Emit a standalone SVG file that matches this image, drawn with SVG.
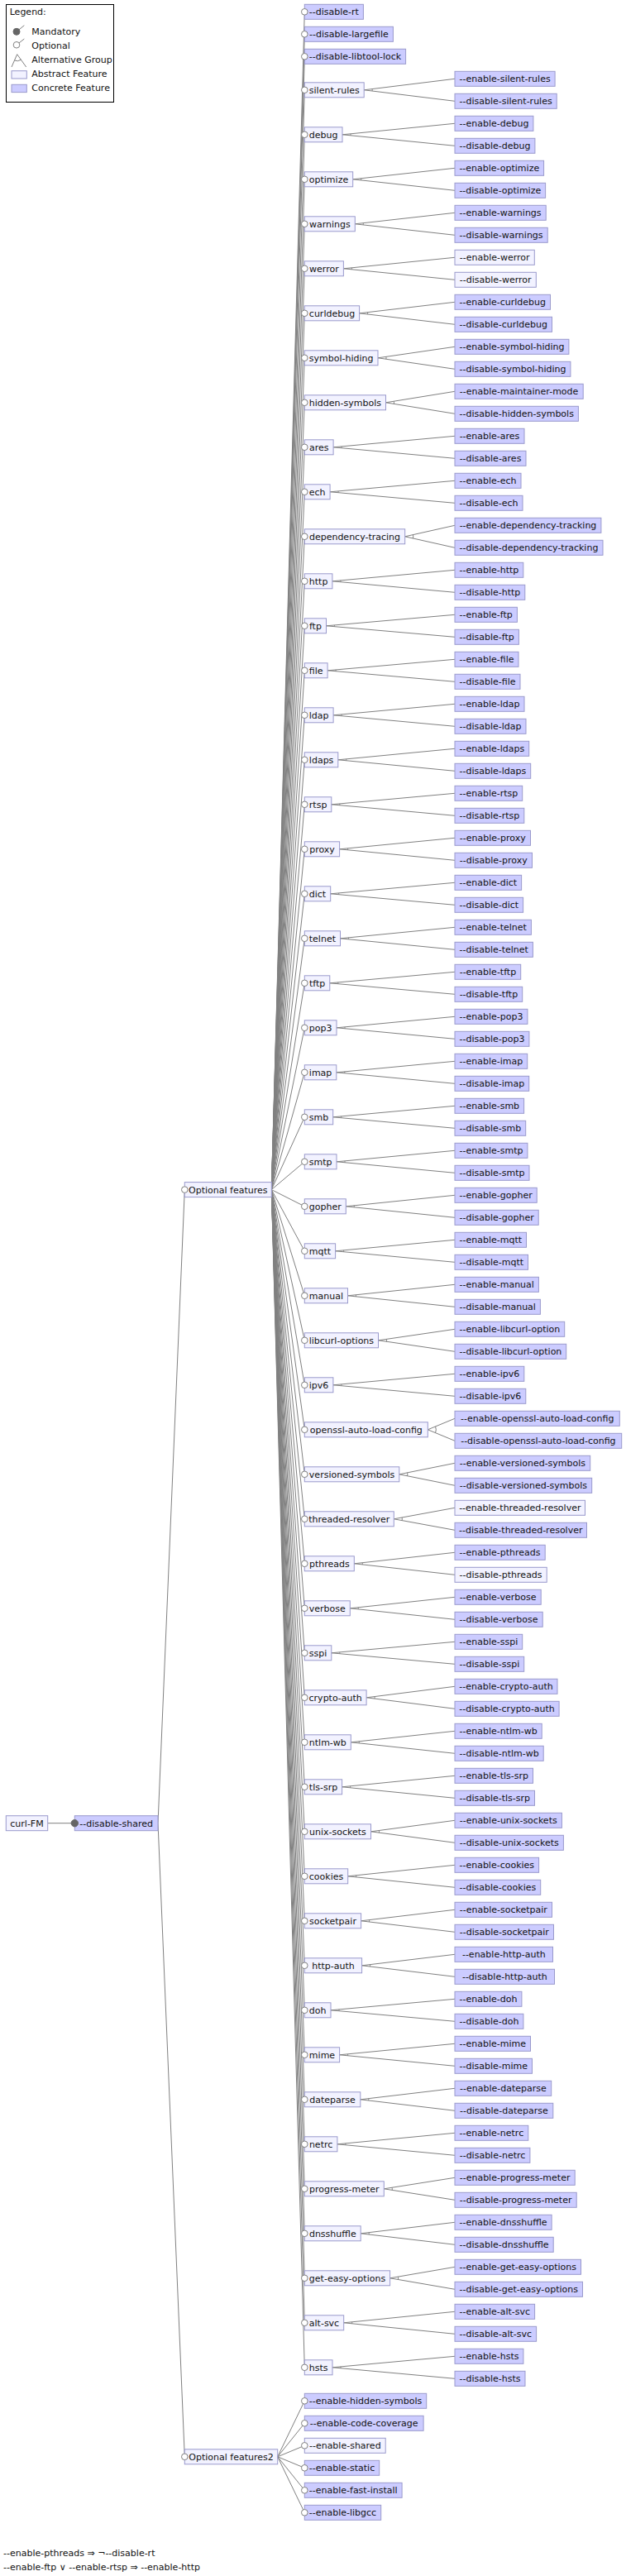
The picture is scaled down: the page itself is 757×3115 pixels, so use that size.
<svg xmlns="http://www.w3.org/2000/svg" width="757" height="3115" viewBox="0 0 757 3115">
<style>
text{font-family:"DejaVu Sans","Noto Sans",sans-serif;font-size:11px;fill:#111}
.m{text-anchor:middle}
.c{fill:#ccccff;stroke:#9999cc;stroke-width:1}
.a{fill:#f2f2ff;stroke:#9999cc;stroke-width:1}
.o{fill:#fff;stroke:#808080;stroke-width:1}
.k{fill:#666;stroke:#666;stroke-width:1}
#connectors path,.ln{fill:none;stroke:#808080;stroke-width:1}
</style>
<rect width="757" height="3115" fill="#fff"/>
<g id="legend">
<rect x="7.5" y="5.5" width="130" height="118" fill="#fff" stroke="#000"/>
<text x="11.7" y="18.3">Legend:</text>
<path class="ln" d="M20 38.3L29.3 30.7M20 54.3L29.3 47M14 81L20.7 65.7L31.7 81M17.5 73A8 8 0 0 0 25.4 72.2"/>
<circle class="k" cx="20" cy="38.3" r="4"/>
<circle class="o" cx="20" cy="54.3" r="3.8"/>
<text x="38.3" y="42.3">Mandatory</text>
<text x="38.3" y="58.5">Optional</text>
<text x="38.3" y="76">Alternative Group</text>
<rect class="a" x="14" y="85.7" width="18.3" height="9.3"/>
<text x="38.3" y="93">Abstract Feature</text>
<rect class="c" x="14" y="102.3" width="18.3" height="9.3"/>
<text x="38.3" y="110">Concrete Feature</text>
</g>
<g id="connectors">
<path d="M57.7 2204.7H90.3"/>
<path d="M191 2204.7L223.3 1438.6M191 2204.7L223.3 2970.8"/>
<path d="M328.3 1438.6L368.3 14.3M328.3 1438.6L368.3 41.3M328.3 1438.6L368.3 68.3M328.3 1438.6L368.3 108.8M328.3 1438.6L368.3 162.8M328.3 1438.6L368.3 216.8M328.3 1438.6L368.3 270.8M328.3 1438.6L368.3 324.8M328.3 1438.6L368.3 378.8M328.3 1438.6L368.3 432.8M328.3 1438.6L368.3 486.8M328.3 1438.6L368.3 540.8M328.3 1438.6L368.3 594.8M328.3 1438.6L368.3 648.8M328.3 1438.6L368.3 702.8M328.3 1438.6L368.3 756.8M328.3 1438.6L368.3 810.8M328.3 1438.6L368.3 864.8M328.3 1438.6L368.3 918.8M328.3 1438.6L368.3 972.8M328.3 1438.6L368.3 1026.8M328.3 1438.6L368.3 1080.8M328.3 1438.6L368.3 1134.8M328.3 1438.6L368.3 1188.8M328.3 1438.6L368.3 1242.8M328.3 1438.6L368.3 1296.8M328.3 1438.6L368.3 1350.8M328.3 1438.6L368.3 1404.8M328.3 1438.6L368.3 1458.8M328.3 1438.6L368.3 1512.8M328.3 1438.6L368.3 1566.8M328.3 1438.6L368.3 1620.8M328.3 1438.6L368.3 1674.8M328.3 1438.6L368.3 1728.8M328.3 1438.6L368.3 1782.8M328.3 1438.6L368.3 1836.8M328.3 1438.6L368.3 1890.8M328.3 1438.6L368.3 1944.8M328.3 1438.6L368.3 1998.8M328.3 1438.6L368.3 2052.8M328.3 1438.6L368.3 2106.8M328.3 1438.6L368.3 2160.8M328.3 1438.6L368.3 2214.8M328.3 1438.6L368.3 2268.8M328.3 1438.6L368.3 2322.8M328.3 1438.6L368.3 2376.8M328.3 1438.6L368.3 2430.8M328.3 1438.6L368.3 2484.8M328.3 1438.6L368.3 2538.8M328.3 1438.6L368.3 2592.8M328.3 1438.6L368.3 2646.8M328.3 1438.6L368.3 2700.8M328.3 1438.6L368.3 2754.8M328.3 1438.6L368.3 2808.8M328.3 1438.6L368.3 2862.8"/>
<path d="M335.7 2970.8L368.3 2903.3M335.7 2970.8L368.3 2930.3M335.7 2970.8L368.3 2957.3M335.7 2970.8L368.3 2984.3M335.7 2970.8L368.3 3011.3M335.7 2970.8L368.3 3038.3"/>
<path transform="translate(0,108.8)" d="M440.2 0L550-13.5M440.2 0L550 13.5M450.1-1.22A10 10 0 0 1 450.1 1.22"/>
<path transform="translate(0,162.8)" d="M414 0L550-13.5M414 0L550 13.5M423.95-.99A10 10 0 0 1 423.95 .99"/>
<path transform="translate(0,216.8)" d="M426.7 0L550-13.5M426.7 0L550 13.5M436.64-1.09A10 10 0 0 1 436.64 1.09"/>
<path transform="translate(0,270.8)" d="M429.3 0L550-13.5M429.3 0L550 13.5M439.24-1.11A10 10 0 0 1 439.24 1.11"/>
<path transform="translate(0,324.8)" d="M415.4 0L550-13.5M415.4 0L550 13.5M425.35-1A10 10 0 0 1 425.35 1"/>
<path transform="translate(0,378.8)" d="M434.6 0L550-13.5M434.6 0L550 13.5M444.53-1.16A10 10 0 0 1 444.53 1.16"/>
<path transform="translate(0,432.8)" d="M457 0L550-13.5M457 0L550 13.5M466.9-1.44A10 10 0 0 1 466.9 1.44"/>
<path transform="translate(0,486.8)" d="M466.5 0L550-13.5M466.5 0L550 13.5M476.37-1.6A10 10 0 0 1 476.37 1.6"/>
<path transform="translate(0,540.8)" d="M403.1 0L550-13.5M403.1 0L550 13.5M413.06-.92A10 10 0 0 1 413.06 .92"/>
<path transform="translate(0,594.8)" d="M399.1 0L550-13.5M399.1 0L550 13.5M409.06-.89A10 10 0 0 1 409.06 .89"/>
<path transform="translate(0,648.8)" d="M489.7 0L550-13.5M489.7 0L550 13.5M499.46-2.19A10 10 0 0 1 499.46 2.19"/>
<path transform="translate(0,702.8)" d="M401.9 0L550-13.5M401.9 0L550 13.5M411.86-.91A10 10 0 0 1 411.86 .91"/>
<path transform="translate(0,756.8)" d="M394.5 0L550-13.5M394.5 0L550 13.5M404.46-.87A10 10 0 0 1 404.46 .87"/>
<path transform="translate(0,810.8)" d="M396.1 0L550-13.5M396.1 0L550 13.5M406.06-.87A10 10 0 0 1 406.06 .87"/>
<path transform="translate(0,864.8)" d="M403.1 0L550-13.5M403.1 0L550 13.5M413.06-.92A10 10 0 0 1 413.06 .92"/>
<path transform="translate(0,918.8)" d="M408.8 0L550-13.5M408.8 0L550 13.5M418.75-.95A10 10 0 0 1 418.75 .95"/>
<path transform="translate(0,972.8)" d="M400.8 0L550-13.5M400.8 0L550 13.5M410.76-.9A10 10 0 0 1 410.76 .9"/>
<path transform="translate(0,1026.8)" d="M410.6 0L550-13.5M410.6 0L550 13.5M420.55-.96A10 10 0 0 1 420.55 .96"/>
<path transform="translate(0,1080.8)" d="M399.7 0L550-13.5M399.7 0L550 13.5M409.66-.9A10 10 0 0 1 409.66 .9"/>
<path transform="translate(0,1134.8)" d="M411.5 0L550-13.5M411.5 0L550 13.5M421.45-.97A10 10 0 0 1 421.45 .97"/>
<path transform="translate(0,1188.8)" d="M398.8 0L550-13.5M398.8 0L550 13.5M408.76-.89A10 10 0 0 1 408.76 .89"/>
<path transform="translate(0,1242.8)" d="M407 0L550-13.5M407 0L550 13.5M416.96-.94A10 10 0 0 1 416.96 .94"/>
<path transform="translate(0,1296.8)" d="M406.8 0L550-13.5M406.8 0L550 13.5M416.76-.94A10 10 0 0 1 416.76 .94"/>
<path transform="translate(0,1350.8)" d="M402.7 0L550-13.5M402.7 0L550 13.5M412.66-.91A10 10 0 0 1 412.66 .91"/>
<path transform="translate(0,1404.8)" d="M407 0L550-13.5M407 0L550 13.5M416.96-.94A10 10 0 0 1 416.96 .94"/>
<path transform="translate(0,1458.8)" d="M418.3 0L550-13.5M418.3 0L550 13.5M428.25-1.02A10 10 0 0 1 428.25 1.02"/>
<path transform="translate(0,1512.8)" d="M405.6 0L550-13.5M405.6 0L550 13.5M415.56-.93A10 10 0 0 1 415.56 .93"/>
<path transform="translate(0,1566.8)" d="M420.5 0L550-13.5M420.5 0L550 13.5M430.45-1.04A10 10 0 0 1 430.45 1.04"/>
<path transform="translate(0,1620.8)" d="M457.5 0L550-13.5M457.5 0L550 13.5M467.4-1.44A10 10 0 0 1 467.4 1.44"/>
<path transform="translate(0,1674.8)" d="M402.9 0L550-13.5M402.9 0L550 13.5M412.86-.91A10 10 0 0 1 412.86 .91"/>
<path transform="translate(0,1728.8)" d="M517.3 0L550-13.5M517.3 0L550 13.5M526.54-3.82A10 10 0 0 1 526.54 3.82"/>
<path transform="translate(0,1782.8)" d="M482.8 0L550-13.5M482.8 0L550 13.5M492.6-1.97A10 10 0 0 1 492.6 1.97"/>
<path transform="translate(0,1836.8)" d="M476.3 0L550-13.5M476.3 0L550 13.5M486.14-1.8A10 10 0 0 1 486.14 1.8"/>
<path transform="translate(0,1890.8)" d="M428.3 0L550-13.5M428.3 0L550 13.5M438.24-1.1A10 10 0 0 1 438.24 1.1"/>
<path transform="translate(0,1944.8)" d="M423.3 0L550-13.5M423.3 0L550 13.5M433.24-1.06A10 10 0 0 1 433.24 1.06"/>
<path transform="translate(0,1998.8)" d="M400.8 0L550-13.5M400.8 0L550 13.5M410.76-.9A10 10 0 0 1 410.76 .9"/>
<path transform="translate(0,2052.8)" d="M443.1 0L550-13.5M443.1 0L550 13.5M453.02-1.25A10 10 0 0 1 453.02 1.25"/>
<path transform="translate(0,2106.8)" d="M424.3 0L550-13.5M424.3 0L550 13.5M434.24-1.07A10 10 0 0 1 434.24 1.07"/>
<path transform="translate(0,2160.8)" d="M413.6 0L550-13.5M413.6 0L550 13.5M423.55-.99A10 10 0 0 1 423.55 .99"/>
<path transform="translate(0,2214.8)" d="M448.5 0L550-13.5M448.5 0L550 13.5M458.41-1.32A10 10 0 0 1 458.41 1.32"/>
<path transform="translate(0,2268.8)" d="M420.7 0L550-13.5M420.7 0L550 13.5M430.65-1.04A10 10 0 0 1 430.65 1.04"/>
<path transform="translate(0,2322.8)" d="M436.6 0L550-13.5M436.6 0L550 13.5M446.53-1.18A10 10 0 0 1 446.53 1.18"/>
<path transform="translate(0,2376.8)" d="M437.6 0L550-13.5M437.6 0L550 13.5M447.53-1.19A10 10 0 0 1 447.53 1.19"/>
<path transform="translate(0,2430.8)" d="M400 0L550-13.5M400 0L550 13.5M409.96-.9A10 10 0 0 1 409.96 .9"/>
<path transform="translate(0,2484.8)" d="M410.6 0L550-13.5M410.6 0L550 13.5M420.55-.96A10 10 0 0 1 420.55 .96"/>
<path transform="translate(0,2538.8)" d="M435.8 0L550-13.5M435.8 0L550 13.5M445.73-1.17A10 10 0 0 1 445.73 1.17"/>
<path transform="translate(0,2592.8)" d="M407.9 0L550-13.5M407.9 0L550 13.5M417.85-.95A10 10 0 0 1 417.85 .95"/>
<path transform="translate(0,2646.8)" d="M464.3 0L550-13.5M464.3 0L550 13.5M474.18-1.56A10 10 0 0 1 474.18 1.56"/>
<path transform="translate(0,2700.8)" d="M436.2 0L550-13.5M436.2 0L550 13.5M446.13-1.18A10 10 0 0 1 446.13 1.18"/>
<path transform="translate(0,2754.8)" d="M471.6 0L550-13.5M471.6 0L550 13.5M481.46-1.7A10 10 0 0 1 481.46 1.7"/>
<path transform="translate(0,2808.8)" d="M415.7 0L550-13.5M415.7 0L550 13.5M425.65-1A10 10 0 0 1 425.65 1"/>
<path transform="translate(0,2862.8)" d="M402 0L550-13.5M402 0L550 13.5M411.96-.91A10 10 0 0 1 411.96 .91"/>
</g>
<g id="n-curl-FM" transform="translate(7.3,2204.7)"><rect class="a" y="-9" width="50.4" height="18"/><text class="m" x="25.2" y="4">curl-FM</text></g>
<g id="n-disable-shared" transform="translate(90.3,2204.7)"><rect class="c" y="-9" width="100.7" height="18"/><circle class="k" r="4.2"/><text class="m" x="50.4" y="4">--disable-shared</text></g>
<g id="n-optional-features" transform="translate(223.3,1438.6)"><rect class="a" y="-9" width="105" height="18"/><circle class="o" r="3.8"/><text class="m" x="52.5" y="4">Optional features</text></g>
<g id="n-optional-features2" transform="translate(223.3,2970.8)"><rect class="a" y="-9" width="112.4" height="18"/><circle class="o" r="3.8"/><text class="m" x="56.2" y="4">Optional features2</text></g>
<g id="n-disable-rt" transform="translate(368.3,14.3)"><rect class="c" y="-9" width="71.1" height="18"/><circle class="o" r="3.8"/><text class="m" x="35.6" y="4">--disable-rt</text></g>
<g id="n-disable-largefile" transform="translate(368.3,41.3)"><rect class="c" y="-9" width="107.1" height="18"/><circle class="o" r="3.8"/><text class="m" x="53.6" y="4">--disable-largefile</text></g>
<g id="n-disable-libtool-lock" transform="translate(368.3,68.3)"><rect class="c" y="-9" width="122.3" height="18"/><circle class="o" r="3.8"/><text class="m" x="61.2" y="4">--disable-libtool-lock</text></g>
<g id="n-silent-rules" transform="translate(368.3,108.8)"><rect class="a" y="-9" width="71.9" height="18"/><circle class="o" r="3.8"/><text class="m" x="36" y="4">silent-rules</text></g>
<g id="n-enable-silent-rules" transform="translate(550,95.3)"><rect class="c" y="-9" width="121.1" height="18"/><text class="m" x="60.6" y="4">--enable-silent-rules</text></g>
<g id="n-disable-silent-rules" transform="translate(550,122.3)"><rect class="c" y="-9" width="123.2" height="18"/><text class="m" x="61.6" y="4">--disable-silent-rules</text></g>
<g id="n-debug" transform="translate(368.3,162.8)"><rect class="a" y="-9" width="45.7" height="18"/><circle class="o" r="3.8"/><text class="m" x="22.9" y="4">debug</text></g>
<g id="n-enable-debug" transform="translate(550,149.3)"><rect class="c" y="-9" width="94.9" height="18"/><text class="m" x="47.5" y="4">--enable-debug</text></g>
<g id="n-disable-debug" transform="translate(550,176.3)"><rect class="c" y="-9" width="96.9" height="18"/><text class="m" x="48.5" y="4">--disable-debug</text></g>
<g id="n-optimize" transform="translate(368.3,216.8)"><rect class="a" y="-9" width="58.4" height="18"/><circle class="o" r="3.8"/><text class="m" x="29.2" y="4">optimize</text></g>
<g id="n-enable-optimize" transform="translate(550,203.3)"><rect class="c" y="-9" width="107.6" height="18"/><text class="m" x="53.8" y="4">--enable-optimize</text></g>
<g id="n-disable-optimize" transform="translate(550,230.3)"><rect class="c" y="-9" width="109.6" height="18"/><text class="m" x="54.8" y="4">--disable-optimize</text></g>
<g id="n-warnings" transform="translate(368.3,270.8)"><rect class="a" y="-9" width="61" height="18"/><circle class="o" r="3.8"/><text class="m" x="30.5" y="4">warnings</text></g>
<g id="n-enable-warnings" transform="translate(550,257.3)"><rect class="c" y="-9" width="110.2" height="18"/><text class="m" x="55.1" y="4">--enable-warnings</text></g>
<g id="n-disable-warnings" transform="translate(550,284.3)"><rect class="c" y="-9" width="112.2" height="18"/><text class="m" x="56.1" y="4">--disable-warnings</text></g>
<g id="n-werror" transform="translate(368.3,324.8)"><rect class="a" y="-9" width="47.1" height="18"/><circle class="o" r="3.8"/><text class="m" x="23.6" y="4">werror</text></g>
<g id="n-enable-werror" transform="translate(550,311.3)"><rect class="a" y="-9" width="96.3" height="18"/><text class="m" x="48.2" y="4">--enable-werror</text></g>
<g id="n-disable-werror" transform="translate(550,338.3)"><rect class="a" y="-9" width="98.3" height="18"/><text class="m" x="49.2" y="4">--disable-werror</text></g>
<g id="n-curldebug" transform="translate(368.3,378.8)"><rect class="a" y="-9" width="66.3" height="18"/><circle class="o" r="3.8"/><text class="m" x="33.2" y="4">curldebug</text></g>
<g id="n-enable-curldebug" transform="translate(550,365.3)"><rect class="c" y="-9" width="115.5" height="18"/><text class="m" x="57.8" y="4">--enable-curldebug</text></g>
<g id="n-disable-curldebug" transform="translate(550,392.3)"><rect class="c" y="-9" width="117.5" height="18"/><text class="m" x="58.8" y="4">--disable-curldebug</text></g>
<g id="n-symbol-hiding" transform="translate(368.3,432.8)"><rect class="a" y="-9" width="88.7" height="18"/><circle class="o" r="3.8"/><text class="m" x="44.4" y="4">symbol-hiding</text></g>
<g id="n-enable-symbol-hiding" transform="translate(550,419.3)"><rect class="c" y="-9" width="137.9" height="18"/><text class="m" x="69" y="4">--enable-symbol-hiding</text></g>
<g id="n-disable-symbol-hiding" transform="translate(550,446.3)"><rect class="c" y="-9" width="139.9" height="18"/><text class="m" x="70" y="4">--disable-symbol-hiding</text></g>
<g id="n-hidden-symbols" transform="translate(368.3,486.8)"><rect class="a" y="-9" width="98.2" height="18"/><circle class="o" r="3.8"/><text class="m" x="49.1" y="4">hidden-symbols</text></g>
<g id="n-enable-maintainer-mode" transform="translate(550,473.3)"><rect class="c" y="-9" width="155.2" height="18"/><text class="m" x="77.6" y="4">--enable-maintainer-mode</text></g>
<g id="n-disable-hidden-symbols" transform="translate(550,500.3)"><rect class="c" y="-9" width="149.4" height="18"/><text class="m" x="74.7" y="4">--disable-hidden-symbols</text></g>
<g id="n-ares" transform="translate(368.3,540.8)"><rect class="a" y="-9" width="34.8" height="18"/><circle class="o" r="3.8"/><text class="m" x="17.4" y="4">ares</text></g>
<g id="n-enable-ares" transform="translate(550,527.3)"><rect class="c" y="-9" width="84" height="18"/><text class="m" x="42" y="4">--enable-ares</text></g>
<g id="n-disable-ares" transform="translate(550,554.3)"><rect class="c" y="-9" width="86" height="18"/><text class="m" x="43" y="4">--disable-ares</text></g>
<g id="n-ech" transform="translate(368.3,594.8)"><rect class="a" y="-9" width="30.8" height="18"/><circle class="o" r="3.8"/><text class="m" x="15.4" y="4">ech</text></g>
<g id="n-enable-ech" transform="translate(550,581.3)"><rect class="c" y="-9" width="80" height="18"/><text class="m" x="40" y="4">--enable-ech</text></g>
<g id="n-disable-ech" transform="translate(550,608.3)"><rect class="c" y="-9" width="82" height="18"/><text class="m" x="41" y="4">--disable-ech</text></g>
<g id="n-dependency-tracing" transform="translate(368.3,648.8)"><rect class="a" y="-9" width="121.4" height="18"/><circle class="o" r="3.8"/><text class="m" x="60.7" y="4">dependency-tracing</text></g>
<g id="n-enable-dependency-tracking" transform="translate(550,635.3)"><rect class="c" y="-9" width="176.9" height="18"/><text class="m" x="88.5" y="4">--enable-dependency-tracking</text></g>
<g id="n-disable-dependency-tracking" transform="translate(550,662.3)"><rect class="c" y="-9" width="179" height="18"/><text class="m" x="89.5" y="4">--disable-dependency-tracking</text></g>
<g id="n-http" transform="translate(368.3,702.8)"><rect class="a" y="-9" width="33.6" height="18"/><circle class="o" r="3.8"/><text class="m" x="16.8" y="4">http</text></g>
<g id="n-enable-http" transform="translate(550,689.3)"><rect class="c" y="-9" width="82.8" height="18"/><text class="m" x="41.4" y="4">--enable-http</text></g>
<g id="n-disable-http" transform="translate(550,716.3)"><rect class="c" y="-9" width="84.8" height="18"/><text class="m" x="42.4" y="4">--disable-http</text></g>
<g id="n-ftp" transform="translate(368.3,756.8)"><rect class="a" y="-9" width="26.2" height="18"/><circle class="o" r="3.8"/><text class="m" x="13.1" y="4">ftp</text></g>
<g id="n-enable-ftp" transform="translate(550,743.3)"><rect class="c" y="-9" width="75.4" height="18"/><text class="m" x="37.7" y="4">--enable-ftp</text></g>
<g id="n-disable-ftp" transform="translate(550,770.3)"><rect class="c" y="-9" width="77.4" height="18"/><text class="m" x="38.7" y="4">--disable-ftp</text></g>
<g id="n-file" transform="translate(368.3,810.8)"><rect class="a" y="-9" width="27.8" height="18"/><circle class="o" r="3.8"/><text class="m" x="13.9" y="4">file</text></g>
<g id="n-enable-file" transform="translate(550,797.3)"><rect class="c" y="-9" width="77" height="18"/><text class="m" x="38.5" y="4">--enable-file</text></g>
<g id="n-disable-file" transform="translate(550,824.3)"><rect class="c" y="-9" width="79" height="18"/><text class="m" x="39.5" y="4">--disable-file</text></g>
<g id="n-ldap" transform="translate(368.3,864.8)"><rect class="a" y="-9" width="34.8" height="18"/><circle class="o" r="3.8"/><text class="m" x="17.4" y="4">ldap</text></g>
<g id="n-enable-ldap" transform="translate(550,851.3)"><rect class="c" y="-9" width="84" height="18"/><text class="m" x="42" y="4">--enable-ldap</text></g>
<g id="n-disable-ldap" transform="translate(550,878.3)"><rect class="c" y="-9" width="86" height="18"/><text class="m" x="43" y="4">--disable-ldap</text></g>
<g id="n-ldaps" transform="translate(368.3,918.8)"><rect class="a" y="-9" width="40.5" height="18"/><circle class="o" r="3.8"/><text class="m" x="20.3" y="4">ldaps</text></g>
<g id="n-enable-ldaps" transform="translate(550,905.3)"><rect class="c" y="-9" width="89.7" height="18"/><text class="m" x="44.9" y="4">--enable-ldaps</text></g>
<g id="n-disable-ldaps" transform="translate(550,932.3)"><rect class="c" y="-9" width="91.7" height="18"/><text class="m" x="45.9" y="4">--disable-ldaps</text></g>
<g id="n-rtsp" transform="translate(368.3,972.8)"><rect class="a" y="-9" width="32.5" height="18"/><circle class="o" r="3.8"/><text class="m" x="16.3" y="4">rtsp</text></g>
<g id="n-enable-rtsp" transform="translate(550,959.3)"><rect class="c" y="-9" width="81.7" height="18"/><text class="m" x="40.9" y="4">--enable-rtsp</text></g>
<g id="n-disable-rtsp" transform="translate(550,986.3)"><rect class="c" y="-9" width="83.8" height="18"/><text class="m" x="41.9" y="4">--disable-rtsp</text></g>
<g id="n-proxy" transform="translate(368.3,1026.8)"><rect class="a" y="-9" width="42.3" height="18"/><circle class="o" r="3.8"/><text class="m" x="21.2" y="4">proxy</text></g>
<g id="n-enable-proxy" transform="translate(550,1013.3)"><rect class="c" y="-9" width="91.5" height="18"/><text class="m" x="45.8" y="4">--enable-proxy</text></g>
<g id="n-disable-proxy" transform="translate(550,1040.3)"><rect class="c" y="-9" width="93.5" height="18"/><text class="m" x="46.8" y="4">--disable-proxy</text></g>
<g id="n-dict" transform="translate(368.3,1080.8)"><rect class="a" y="-9" width="31.4" height="18"/><circle class="o" r="3.8"/><text class="m" x="15.7" y="4">dict</text></g>
<g id="n-enable-dict" transform="translate(550,1067.3)"><rect class="c" y="-9" width="80.6" height="18"/><text class="m" x="40.3" y="4">--enable-dict</text></g>
<g id="n-disable-dict" transform="translate(550,1094.3)"><rect class="c" y="-9" width="82.6" height="18"/><text class="m" x="41.3" y="4">--disable-dict</text></g>
<g id="n-telnet" transform="translate(368.3,1134.8)"><rect class="a" y="-9" width="43.2" height="18"/><circle class="o" r="3.8"/><text class="m" x="21.6" y="4">telnet</text></g>
<g id="n-enable-telnet" transform="translate(550,1121.3)"><rect class="c" y="-9" width="92.4" height="18"/><text class="m" x="46.2" y="4">--enable-telnet</text></g>
<g id="n-disable-telnet" transform="translate(550,1148.3)"><rect class="c" y="-9" width="94.4" height="18"/><text class="m" x="47.2" y="4">--disable-telnet</text></g>
<g id="n-tftp" transform="translate(368.3,1188.8)"><rect class="a" y="-9" width="30.5" height="18"/><circle class="o" r="3.8"/><text class="m" x="15.3" y="4">tftp</text></g>
<g id="n-enable-tftp" transform="translate(550,1175.3)"><rect class="c" y="-9" width="79.7" height="18"/><text class="m" x="39.9" y="4">--enable-tftp</text></g>
<g id="n-disable-tftp" transform="translate(550,1202.3)"><rect class="c" y="-9" width="81.7" height="18"/><text class="m" x="40.9" y="4">--disable-tftp</text></g>
<g id="n-pop3" transform="translate(368.3,1242.8)"><rect class="a" y="-9" width="38.7" height="18"/><circle class="o" r="3.8"/><text class="m" x="19.4" y="4">pop3</text></g>
<g id="n-enable-pop3" transform="translate(550,1229.3)"><rect class="c" y="-9" width="87.9" height="18"/><text class="m" x="44" y="4">--enable-pop3</text></g>
<g id="n-disable-pop3" transform="translate(550,1256.3)"><rect class="c" y="-9" width="89.9" height="18"/><text class="m" x="45" y="4">--disable-pop3</text></g>
<g id="n-imap" transform="translate(368.3,1296.8)"><rect class="a" y="-9" width="38.5" height="18"/><circle class="o" r="3.8"/><text class="m" x="19.3" y="4">imap</text></g>
<g id="n-enable-imap" transform="translate(550,1283.3)"><rect class="c" y="-9" width="87.7" height="18"/><text class="m" x="43.9" y="4">--enable-imap</text></g>
<g id="n-disable-imap" transform="translate(550,1310.3)"><rect class="c" y="-9" width="89.7" height="18"/><text class="m" x="44.9" y="4">--disable-imap</text></g>
<g id="n-smb" transform="translate(368.3,1350.8)"><rect class="a" y="-9" width="34.4" height="18"/><circle class="o" r="3.8"/><text class="m" x="17.2" y="4">smb</text></g>
<g id="n-enable-smb" transform="translate(550,1337.3)"><rect class="c" y="-9" width="83.6" height="18"/><text class="m" x="41.8" y="4">--enable-smb</text></g>
<g id="n-disable-smb" transform="translate(550,1364.3)"><rect class="c" y="-9" width="85.7" height="18"/><text class="m" x="42.9" y="4">--disable-smb</text></g>
<g id="n-smtp" transform="translate(368.3,1404.8)"><rect class="a" y="-9" width="38.7" height="18"/><circle class="o" r="3.8"/><text class="m" x="19.4" y="4">smtp</text></g>
<g id="n-enable-smtp" transform="translate(550,1391.3)"><rect class="c" y="-9" width="87.9" height="18"/><text class="m" x="44" y="4">--enable-smtp</text></g>
<g id="n-disable-smtp" transform="translate(550,1418.3)"><rect class="c" y="-9" width="90" height="18"/><text class="m" x="45" y="4">--disable-smtp</text></g>
<g id="n-gopher" transform="translate(368.3,1458.8)"><rect class="a" y="-9" width="50" height="18"/><circle class="o" r="3.8"/><text class="m" x="25" y="4">gopher</text></g>
<g id="n-enable-gopher" transform="translate(550,1445.3)"><rect class="c" y="-9" width="99.2" height="18"/><text class="m" x="49.6" y="4">--enable-gopher</text></g>
<g id="n-disable-gopher" transform="translate(550,1472.3)"><rect class="c" y="-9" width="101.2" height="18"/><text class="m" x="50.6" y="4">--disable-gopher</text></g>
<g id="n-mqtt" transform="translate(368.3,1512.8)"><rect class="a" y="-9" width="37.3" height="18"/><circle class="o" r="3.8"/><text class="m" x="18.7" y="4">mqtt</text></g>
<g id="n-enable-mqtt" transform="translate(550,1499.3)"><rect class="c" y="-9" width="86.5" height="18"/><text class="m" x="43.3" y="4">--enable-mqtt</text></g>
<g id="n-disable-mqtt" transform="translate(550,1526.3)"><rect class="c" y="-9" width="88.5" height="18"/><text class="m" x="44.3" y="4">--disable-mqtt</text></g>
<g id="n-manual" transform="translate(368.3,1566.8)"><rect class="a" y="-9" width="52.2" height="18"/><circle class="o" r="3.8"/><text class="m" x="26.1" y="4">manual</text></g>
<g id="n-enable-manual" transform="translate(550,1553.3)"><rect class="c" y="-9" width="101.4" height="18"/><text class="m" x="50.7" y="4">--enable-manual</text></g>
<g id="n-disable-manual" transform="translate(550,1580.3)"><rect class="c" y="-9" width="103.4" height="18"/><text class="m" x="51.7" y="4">--disable-manual</text></g>
<g id="n-libcurl-options" transform="translate(368.3,1620.8)"><rect class="a" y="-9" width="89.2" height="18"/><circle class="o" r="3.8"/><text class="m" x="44.6" y="4">libcurl-options</text></g>
<g id="n-enable-libcurl-option" transform="translate(550,1607.3)"><rect class="c" y="-9" width="132.7" height="18"/><text class="m" x="66.4" y="4">--enable-libcurl-option</text></g>
<g id="n-disable-libcurl-option" transform="translate(550,1634.3)"><rect class="c" y="-9" width="134.7" height="18"/><text class="m" x="67.4" y="4">--disable-libcurl-option</text></g>
<g id="n-ipv6" transform="translate(368.3,1674.8)"><rect class="a" y="-9" width="34.6" height="18"/><circle class="o" r="3.8"/><text class="m" x="17.3" y="4">ipv6</text></g>
<g id="n-enable-ipv6" transform="translate(550,1661.3)"><rect class="c" y="-9" width="83.8" height="18"/><text class="m" x="41.9" y="4">--enable-ipv6</text></g>
<g id="n-disable-ipv6" transform="translate(550,1688.3)"><rect class="c" y="-9" width="85.8" height="18"/><text class="m" x="42.9" y="4">--disable-ipv6</text></g>
<g id="n-openssl-auto-load-config" transform="translate(368.3,1728.8)"><rect class="a" y="-9" width="149" height="18"/><circle class="o" r="3.8"/><text class="m" x="74.5" y="4">openssl-auto-load-config</text></g>
<g id="n-enable-openssl-auto-load-config" transform="translate(550,1715.3)"><rect class="c" y="-9" width="199.3" height="18"/><text class="m" x="99.7" y="4">--enable-openssl-auto-load-config</text></g>
<g id="n-disable-openssl-auto-load-config" transform="translate(550,1742.3)"><rect class="c" y="-9" width="201.7" height="18"/><text class="m" x="100.9" y="4">--disable-openssl-auto-load-config</text></g>
<g id="n-versioned-symbols" transform="translate(368.3,1782.8)"><rect class="a" y="-9" width="114.5" height="18"/><circle class="o" r="3.8"/><text class="m" x="57.3" y="4">versioned-symbols</text></g>
<g id="n-enable-versioned-symbols" transform="translate(550,1769.3)"><rect class="c" y="-9" width="163.7" height="18"/><text class="m" x="81.9" y="4">--enable-versioned-symbols</text></g>
<g id="n-disable-versioned-symbols" transform="translate(550,1796.3)"><rect class="c" y="-9" width="165.7" height="18"/><text class="m" x="82.9" y="4">--disable-versioned-symbols</text></g>
<g id="n-threaded-resolver" transform="translate(368.3,1836.8)"><rect class="a" y="-9" width="108" height="18"/><circle class="o" r="3.8"/><text class="m" x="54" y="4">threaded-resolver</text></g>
<g id="n-enable-threaded-resolver" transform="translate(550,1823.3)"><rect class="a" y="-9" width="157.5" height="18"/><text class="m" x="78.8" y="4">--enable-threaded-resolver</text></g>
<g id="n-disable-threaded-resolver" transform="translate(550,1850.3)"><rect class="c" y="-9" width="159.5" height="18"/><text class="m" x="79.8" y="4">--disable-threaded-resolver</text></g>
<g id="n-pthreads" transform="translate(368.3,1890.8)"><rect class="a" y="-9" width="60" height="18"/><circle class="o" r="3.8"/><text class="m" x="30" y="4">pthreads</text></g>
<g id="n-enable-pthreads" transform="translate(550,1877.3)"><rect class="c" y="-9" width="109.2" height="18"/><text class="m" x="54.6" y="4">--enable-pthreads</text></g>
<g id="n-disable-pthreads" transform="translate(550,1904.3)"><rect class="a" y="-9" width="111.2" height="18"/><text class="m" x="55.6" y="4">--disable-pthreads</text></g>
<g id="n-verbose" transform="translate(368.3,1944.8)"><rect class="a" y="-9" width="55" height="18"/><circle class="o" r="3.8"/><text class="m" x="27.5" y="4">verbose</text></g>
<g id="n-enable-verbose" transform="translate(550,1931.3)"><rect class="c" y="-9" width="104.2" height="18"/><text class="m" x="52.1" y="4">--enable-verbose</text></g>
<g id="n-disable-verbose" transform="translate(550,1958.3)"><rect class="c" y="-9" width="106.2" height="18"/><text class="m" x="53.1" y="4">--disable-verbose</text></g>
<g id="n-sspi" transform="translate(368.3,1998.8)"><rect class="a" y="-9" width="32.5" height="18"/><circle class="o" r="3.8"/><text class="m" x="16.3" y="4">sspi</text></g>
<g id="n-enable-sspi" transform="translate(550,1985.3)"><rect class="c" y="-9" width="81.7" height="18"/><text class="m" x="40.9" y="4">--enable-sspi</text></g>
<g id="n-disable-sspi" transform="translate(550,2012.3)"><rect class="c" y="-9" width="83.7" height="18"/><text class="m" x="41.9" y="4">--disable-sspi</text></g>
<g id="n-crypto-auth" transform="translate(368.3,2052.8)"><rect class="a" y="-9" width="74.8" height="18"/><circle class="o" r="3.8"/><text class="m" x="37.4" y="4">crypto-auth</text></g>
<g id="n-enable-crypto-auth" transform="translate(550,2039.3)"><rect class="c" y="-9" width="124" height="18"/><text class="m" x="62" y="4">--enable-crypto-auth</text></g>
<g id="n-disable-crypto-auth" transform="translate(550,2066.3)"><rect class="c" y="-9" width="126.1" height="18"/><text class="m" x="63.1" y="4">--disable-crypto-auth</text></g>
<g id="n-ntlm-wb" transform="translate(368.3,2106.8)"><rect class="a" y="-9" width="56" height="18"/><circle class="o" r="3.8"/><text class="m" x="28" y="4">ntlm-wb</text></g>
<g id="n-enable-ntlm-wb" transform="translate(550,2093.3)"><rect class="c" y="-9" width="105.2" height="18"/><text class="m" x="52.6" y="4">--enable-ntlm-wb</text></g>
<g id="n-disable-ntlm-wb" transform="translate(550,2120.3)"><rect class="c" y="-9" width="107.2" height="18"/><text class="m" x="53.6" y="4">--disable-ntlm-wb</text></g>
<g id="n-tls-srp" transform="translate(368.3,2160.8)"><rect class="a" y="-9" width="45.3" height="18"/><circle class="o" r="3.8"/><text class="m" x="22.7" y="4">tls-srp</text></g>
<g id="n-enable-tls-srp" transform="translate(550,2147.3)"><rect class="c" y="-9" width="94.5" height="18"/><text class="m" x="47.3" y="4">--enable-tls-srp</text></g>
<g id="n-disable-tls-srp" transform="translate(550,2174.3)"><rect class="c" y="-9" width="96.5" height="18"/><text class="m" x="48.3" y="4">--disable-tls-srp</text></g>
<g id="n-unix-sockets" transform="translate(368.3,2214.8)"><rect class="a" y="-9" width="80.2" height="18"/><circle class="o" r="3.8"/><text class="m" x="40.1" y="4">unix-sockets</text></g>
<g id="n-enable-unix-sockets" transform="translate(550,2201.3)"><rect class="c" y="-9" width="129.4" height="18"/><text class="m" x="64.7" y="4">--enable-unix-sockets</text></g>
<g id="n-disable-unix-sockets" transform="translate(550,2228.3)"><rect class="c" y="-9" width="131.4" height="18"/><text class="m" x="65.7" y="4">--disable-unix-sockets</text></g>
<g id="n-cookies" transform="translate(368.3,2268.8)"><rect class="a" y="-9" width="52.4" height="18"/><circle class="o" r="3.8"/><text class="m" x="26.2" y="4">cookies</text></g>
<g id="n-enable-cookies" transform="translate(550,2255.3)"><rect class="c" y="-9" width="101.6" height="18"/><text class="m" x="50.8" y="4">--enable-cookies</text></g>
<g id="n-disable-cookies" transform="translate(550,2282.3)"><rect class="c" y="-9" width="103.7" height="18"/><text class="m" x="51.9" y="4">--disable-cookies</text></g>
<g id="n-socketpair" transform="translate(368.3,2322.8)"><rect class="a" y="-9" width="68.3" height="18"/><circle class="o" r="3.8"/><text class="m" x="34.2" y="4">socketpair</text></g>
<g id="n-enable-socketpair" transform="translate(550,2309.3)"><rect class="c" y="-9" width="117.5" height="18"/><text class="m" x="58.8" y="4">--enable-socketpair</text></g>
<g id="n-disable-socketpair" transform="translate(550,2336.3)"><rect class="c" y="-9" width="119.5" height="18"/><text class="m" x="59.8" y="4">--disable-socketpair</text></g>
<g id="n-http-auth" transform="translate(368.3,2376.8)"><rect class="a" y="-9" width="69.3" height="18"/><circle class="o" r="3.8"/><text class="m" x="34.7" y="4">http-auth</text></g>
<g id="n-enable-http-auth" transform="translate(550,2363.3)"><rect class="c" y="-9" width="118.5" height="18"/><text class="m" x="59.3" y="4">--enable-http-auth</text></g>
<g id="n-disable-http-auth" transform="translate(550,2390.3)"><rect class="c" y="-9" width="120.5" height="18"/><text class="m" x="60.3" y="4">--disable-http-auth</text></g>
<g id="n-doh" transform="translate(368.3,2430.8)"><rect class="a" y="-9" width="31.7" height="18"/><circle class="o" r="3.8"/><text class="m" x="15.9" y="4">doh</text></g>
<g id="n-enable-doh" transform="translate(550,2417.3)"><rect class="c" y="-9" width="80.9" height="18"/><text class="m" x="40.5" y="4">--enable-doh</text></g>
<g id="n-disable-doh" transform="translate(550,2444.3)"><rect class="c" y="-9" width="82.9" height="18"/><text class="m" x="41.5" y="4">--disable-doh</text></g>
<g id="n-mime" transform="translate(368.3,2484.8)"><rect class="a" y="-9" width="42.3" height="18"/><circle class="o" r="3.8"/><text class="m" x="21.2" y="4">mime</text></g>
<g id="n-enable-mime" transform="translate(550,2471.3)"><rect class="c" y="-9" width="91.5" height="18"/><text class="m" x="45.8" y="4">--enable-mime</text></g>
<g id="n-disable-mime" transform="translate(550,2498.3)"><rect class="c" y="-9" width="93.5" height="18"/><text class="m" x="46.8" y="4">--disable-mime</text></g>
<g id="n-dateparse" transform="translate(368.3,2538.8)"><rect class="a" y="-9" width="67.5" height="18"/><circle class="o" r="3.8"/><text class="m" x="33.8" y="4">dateparse</text></g>
<g id="n-enable-dateparse" transform="translate(550,2525.3)"><rect class="c" y="-9" width="116.7" height="18"/><text class="m" x="58.4" y="4">--enable-dateparse</text></g>
<g id="n-disable-dateparse" transform="translate(550,2552.3)"><rect class="c" y="-9" width="118.8" height="18"/><text class="m" x="59.4" y="4">--disable-dateparse</text></g>
<g id="n-netrc" transform="translate(368.3,2592.8)"><rect class="a" y="-9" width="39.6" height="18"/><circle class="o" r="3.8"/><text class="m" x="19.8" y="4">netrc</text></g>
<g id="n-enable-netrc" transform="translate(550,2579.3)"><rect class="c" y="-9" width="88.8" height="18"/><text class="m" x="44.4" y="4">--enable-netrc</text></g>
<g id="n-disable-netrc" transform="translate(550,2606.3)"><rect class="c" y="-9" width="90.9" height="18"/><text class="m" x="45.5" y="4">--disable-netrc</text></g>
<g id="n-progress-meter" transform="translate(368.3,2646.8)"><rect class="a" y="-9" width="96" height="18"/><circle class="o" r="3.8"/><text class="m" x="48" y="4">progress-meter</text></g>
<g id="n-enable-progress-meter" transform="translate(550,2633.3)"><rect class="c" y="-9" width="145.2" height="18"/><text class="m" x="72.6" y="4">--enable-progress-meter</text></g>
<g id="n-disable-progress-meter" transform="translate(550,2660.3)"><rect class="c" y="-9" width="147.2" height="18"/><text class="m" x="73.6" y="4">--disable-progress-meter</text></g>
<g id="n-dnsshuffle" transform="translate(368.3,2700.8)"><rect class="a" y="-9" width="67.9" height="18"/><circle class="o" r="3.8"/><text class="m" x="34" y="4">dnsshuffle</text></g>
<g id="n-enable-dnsshuffle" transform="translate(550,2687.3)"><rect class="c" y="-9" width="117.1" height="18"/><text class="m" x="58.6" y="4">--enable-dnsshuffle</text></g>
<g id="n-disable-dnsshuffle" transform="translate(550,2714.3)"><rect class="c" y="-9" width="119.2" height="18"/><text class="m" x="59.6" y="4">--disable-dnsshuffle</text></g>
<g id="n-get-easy-options" transform="translate(368.3,2754.8)"><rect class="a" y="-9" width="103.3" height="18"/><circle class="o" r="3.8"/><text class="m" x="51.7" y="4">get-easy-options</text></g>
<g id="n-enable-get-easy-options" transform="translate(550,2741.3)"><rect class="c" y="-9" width="152.5" height="18"/><text class="m" x="76.3" y="4">--enable-get-easy-options</text></g>
<g id="n-disable-get-easy-options" transform="translate(550,2768.3)"><rect class="c" y="-9" width="154.5" height="18"/><text class="m" x="77.3" y="4">--disable-get-easy-options</text></g>
<g id="n-alt-svc" transform="translate(368.3,2808.8)"><rect class="a" y="-9" width="47.4" height="18"/><circle class="o" r="3.8"/><text class="m" x="23.7" y="4">alt-svc</text></g>
<g id="n-enable-alt-svc" transform="translate(550,2795.3)"><rect class="c" y="-9" width="96.6" height="18"/><text class="m" x="48.3" y="4">--enable-alt-svc</text></g>
<g id="n-disable-alt-svc" transform="translate(550,2822.3)"><rect class="c" y="-9" width="98.6" height="18"/><text class="m" x="49.3" y="4">--disable-alt-svc</text></g>
<g id="n-hsts" transform="translate(368.3,2862.8)"><rect class="a" y="-9" width="33.7" height="18"/><circle class="o" r="3.8"/><text class="m" x="16.9" y="4">hsts</text></g>
<g id="n-enable-hsts" transform="translate(550,2849.3)"><rect class="c" y="-9" width="82.9" height="18"/><text class="m" x="41.5" y="4">--enable-hsts</text></g>
<g id="n-disable-hsts" transform="translate(550,2876.3)"><rect class="c" y="-9" width="85" height="18"/><text class="m" x="42.5" y="4">--disable-hsts</text></g>
<g id="n-enable-hidden-symbols" transform="translate(368.3,2903.3)"><rect class="c" y="-9" width="147.4" height="18"/><circle class="o" r="3.8"/><text class="m" x="73.7" y="4">--enable-hidden-symbols</text></g>
<g id="n-enable-code-coverage" transform="translate(368.3,2930.3)"><rect class="c" y="-9" width="143.8" height="18"/><circle class="o" r="3.8"/><text class="m" x="71.9" y="4">--enable-code-coverage</text></g>
<g id="n-enable-shared" transform="translate(368.3,2957.3)"><rect class="a" y="-9" width="97.9" height="18"/><circle class="o" r="3.8"/><text class="m" x="49" y="4">--enable-shared</text></g>
<g id="n-enable-static" transform="translate(368.3,2984.3)"><rect class="c" y="-9" width="90.4" height="18"/><circle class="o" r="3.8"/><text class="m" x="45.2" y="4">--enable-static</text></g>
<g id="n-enable-fast-install" transform="translate(368.3,3011.3)"><rect class="c" y="-9" width="117.8" height="18"/><circle class="o" r="3.8"/><text class="m" x="58.9" y="4">--enable-fast-install</text></g>
<g id="n-enable-libgcc" transform="translate(368.3,3038.3)"><rect class="c" y="-9" width="92.4" height="18"/><circle class="o" r="3.8"/><text class="m" x="46.2" y="4">--enable-libgcc</text></g>
<g id="constraints">
<text x="4" y="3091">--enable-pthreads ⇒ ¬--disable-rt</text>
<text x="4" y="3108">--enable-ftp ∨ --enable-rtsp ⇒ --enable-http</text>
</g>
</svg>
